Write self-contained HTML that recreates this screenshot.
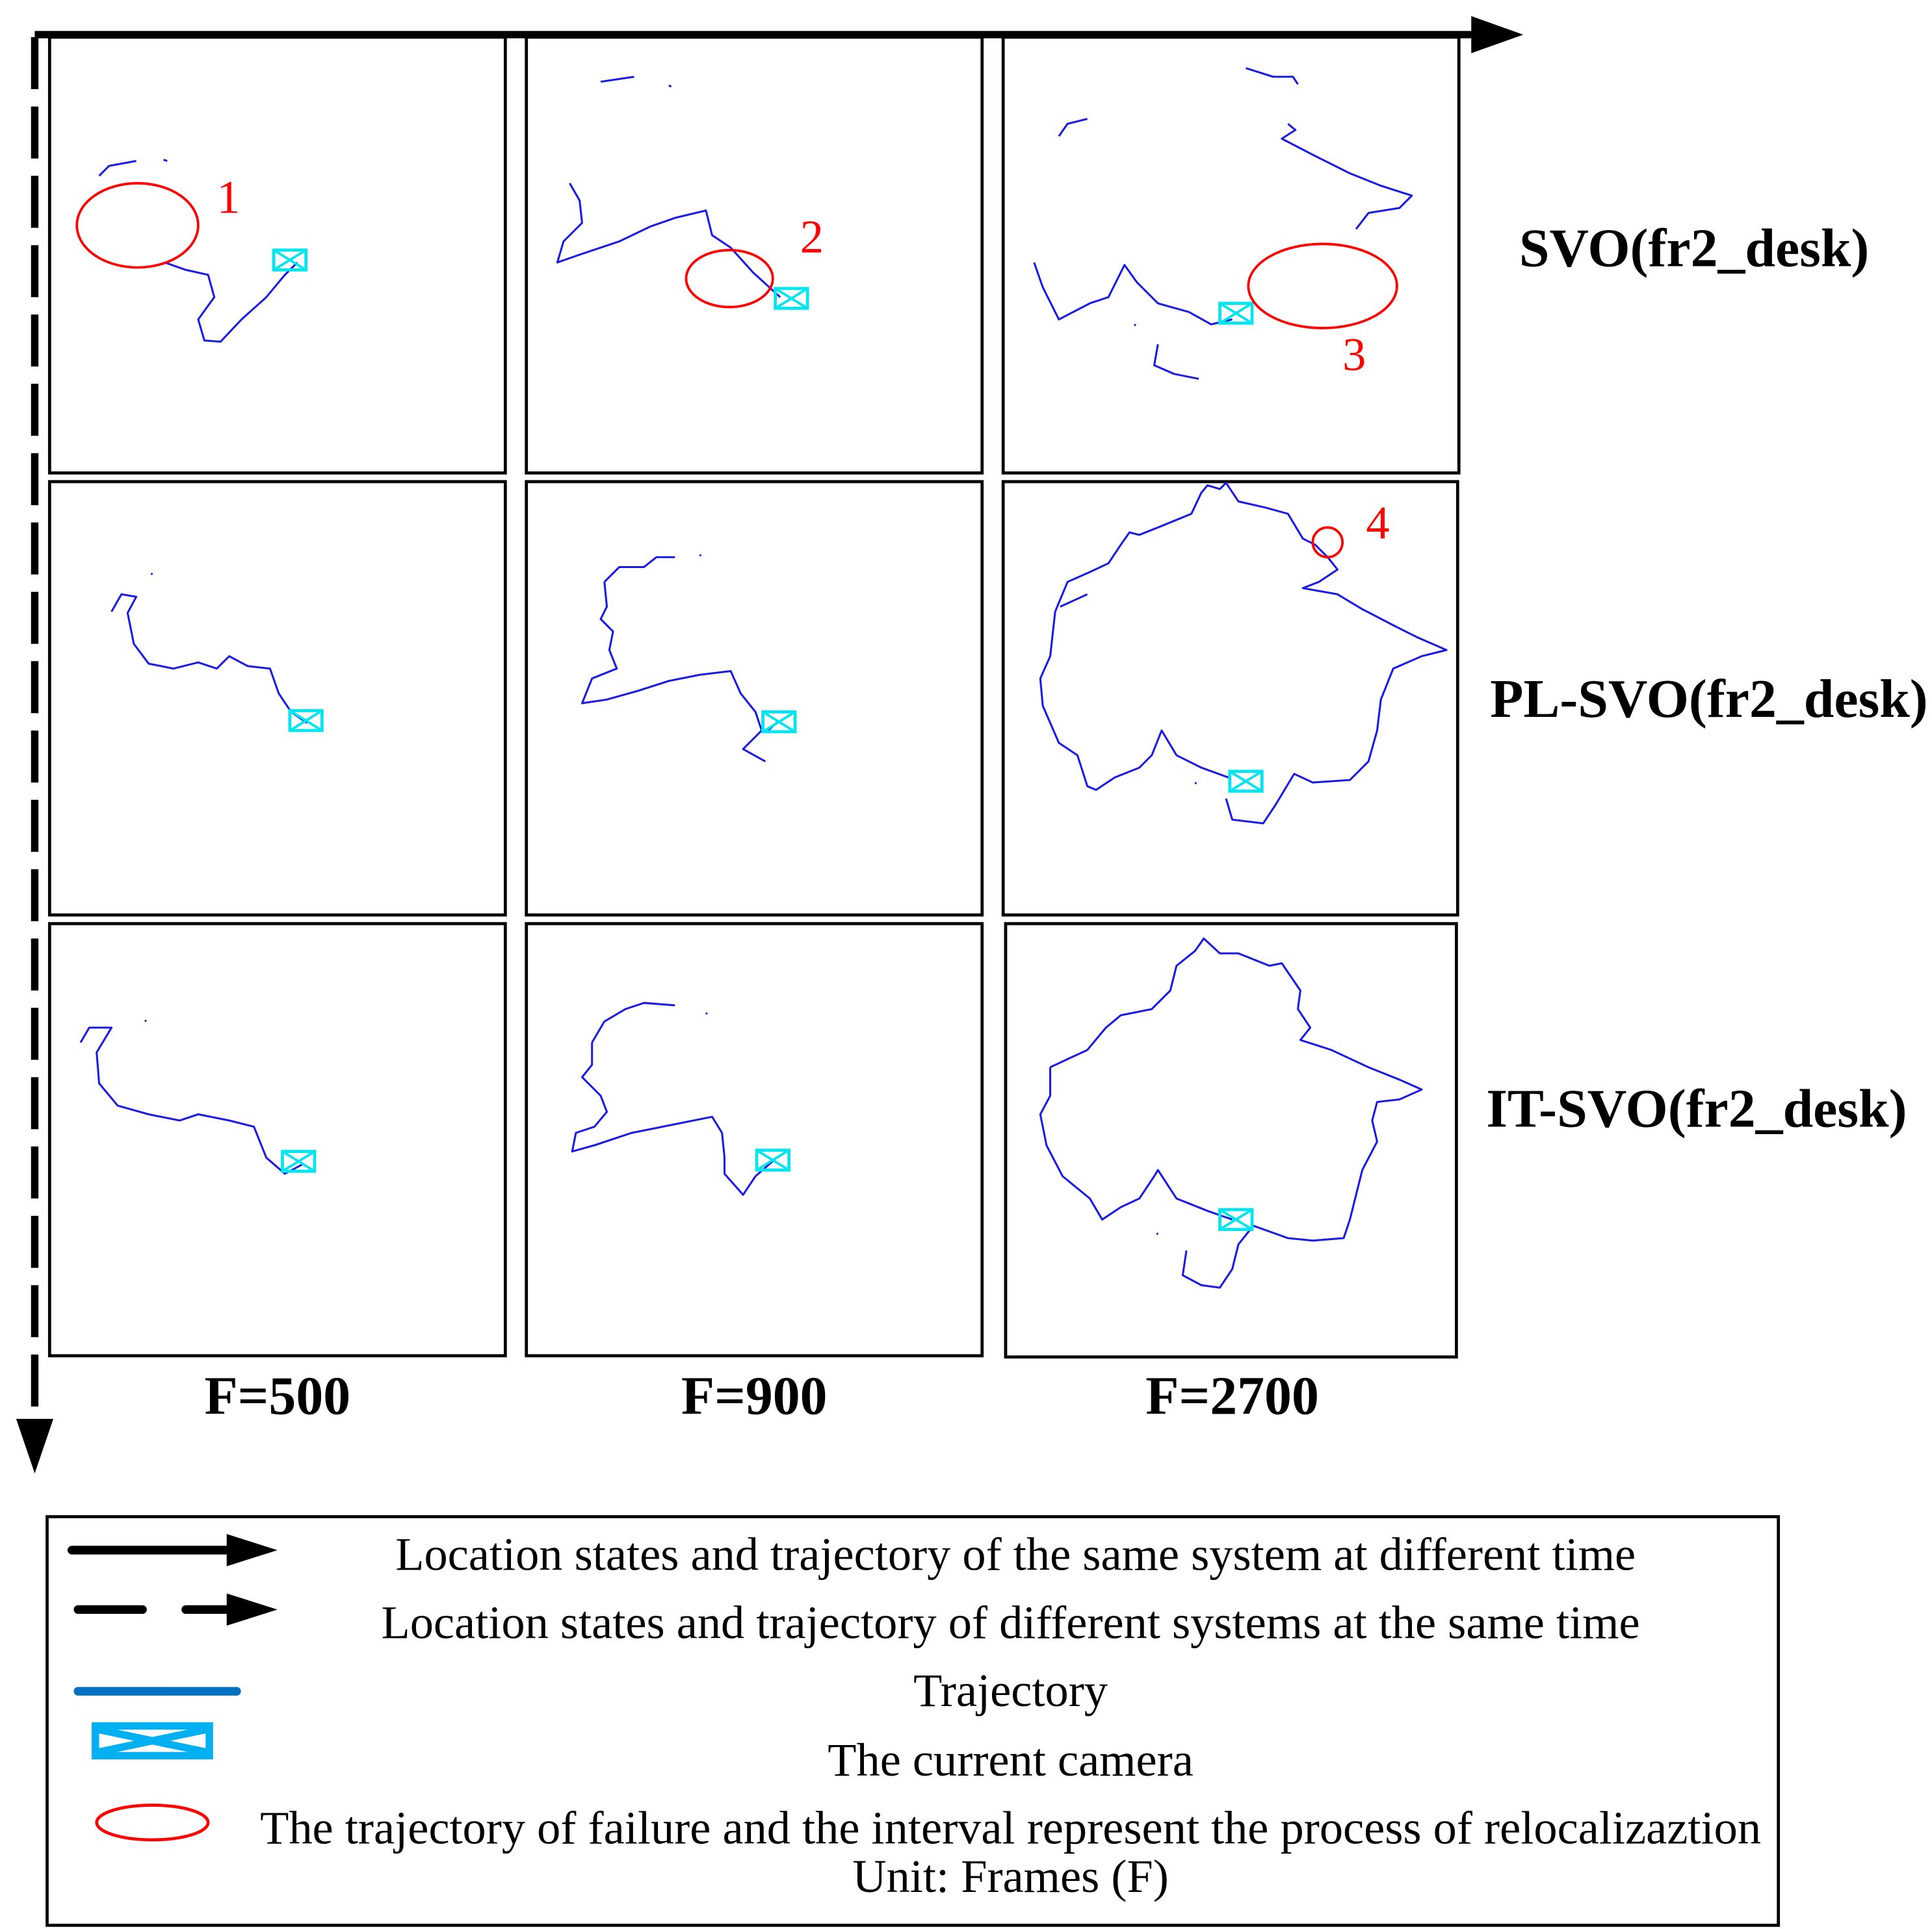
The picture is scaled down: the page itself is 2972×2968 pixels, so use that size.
<!DOCTYPE html>
<html><head><meta charset="utf-8"><style>
html,body{margin:0;padding:0;background:#fff;}
svg{display:block;}
text{font-family:"Liberation Serif",serif;}
</style></head><body>
<svg width="2972" height="2968" viewBox="0 0 1560 1558" xmlns="http://www.w3.org/2000/svg">
<defs>
<g id="cam"><rect x="-13" y="-8" width="26" height="16" fill="none" stroke="#00e5f0" stroke-width="2.5"/><path d="M-13,-8 L13,8 M13,-8 L-13,8" stroke="#00e5f0" stroke-width="2"/></g>
</defs>
<line x1="28" y1="28" x2="1192" y2="28" stroke="#000" stroke-width="6"/>
<polygon points="1188,13 1230,28 1188,43" fill="#000"/>
<line x1="28" y1="30" x2="28" y2="1148" stroke="#000" stroke-width="6" stroke-dasharray="42,14"/>
<polygon points="13,1146 43,1146 28,1190" fill="#000"/>
<g fill="none" stroke="#000" stroke-width="2.5">
<rect x="40" y="30" width="368" height="352"/><rect x="425" y="30" width="368" height="352"/><rect x="810" y="30" width="368" height="352"/>
<rect x="40" y="389" width="368" height="350"/><rect x="425" y="389" width="368" height="350"/><rect x="810" y="389" width="367" height="350"/>
<rect x="40" y="746" width="368" height="349"/><rect x="425" y="746" width="368" height="349"/><rect x="812" y="746" width="364" height="350"/>
</g>
<g fill="none" stroke="#1a1ae6" stroke-width="1.6" stroke-linejoin="round">
<path d="M80,142 L88,134 L110,130 M132,129 L135,130"/>
<path d="M133,212 L150,218 L168,222 L173,240 L160,258 L165,275 L178,276 L195,258 L215,240 L230,222 L240,212"/>
<path d="M485,66 L512,62 M540,69 L542,70"/>
<path d="M460,148 L468,162 L470,180 L455,195 L450,212 L470,205 L500,195 L525,183 L545,176 L570,170 L575,190 L590,200 L608,220 L630,240"/>
<path d="M855,110 L862,100 L878,96 M1006,55 L1028,62 L1044,62 L1048,68 M1040,100 L1046,105 L1035,112 L1060,125 L1090,140 L1115,150 L1140,158 L1130,168 L1105,172 L1095,185"/>
<path d="M835,212 L842,232 L855,258 L880,245 L895,240 L908,214 L918,228 L935,245 L960,252 L978,262 L995,258"/>
<path d="M935,278 L932,295 L948,302 L968,306 M916,262 L917,263"/>
<path d="M90,494 L98,480 L110,482 L103,495 L108,520 L120,536 L140,540 L160,535 L175,540 L185,530 L200,538 L218,540 L225,560 L235,575 L248,584"/>
<path d="M122,463 L123,464"/>
<path d="M488,470 L500,458 L520,458 L530,450 L545,450 M565,448 L566,449"/>
<path d="M488,470 L490,490 L485,500 L495,510 L492,525 L498,540 L478,548 L470,568 L490,565 L515,558 L540,550 L565,545 L590,542 L598,560 L610,575 L615,590 L600,605 L618,615 M620,590 L628,583"/>
<path d="M856,490 L878,480 M852,494 L862,470 L880,462 L895,455 L905,440 L912,430 L920,432 L940,424 L962,415 L970,398 L975,392 L985,395 L990,390 L1000,405 L1022,410 L1040,415 L1052,435 L1062,440 L1072,450 L1080,460 L1065,470 L1052,475 L1080,480 L1100,492 L1125,505 L1145,515 L1168,525 L1148,530 L1125,540 L1115,565 L1112,590 L1105,615 L1090,630 L1060,632 L1045,625 L1030,650 L1020,665 L995,662 L990,645"/>
<path d="M852,494 L848,530 L840,548 L842,570 L855,600 L870,610 L878,635 L885,638 L900,628 L920,620 L930,610 L938,590 L950,610 L970,620 L992,628 M965,632 L966,633"/>
<path d="M65,842 L72,830 L90,830 L78,850 L80,875 L95,893 L120,900 L145,905 L160,900 L185,905 L205,910 L215,935 L230,948 L245,940"/>
<path d="M117,824 L118,825"/>
<path d="M478,842 L488,825 L505,815 L520,810 L545,812 M570,818 L571,819"/>
<path d="M478,842 L478,860 L470,870 L485,885 L490,898 L480,910 L465,915 L462,930 L480,925 L510,915 L545,908 L575,902 L583,915 L585,935 L585,948 L600,965 L610,950 L625,937"/>
<path d="M848,862 L878,848 L893,830 L905,820 L930,815 L945,800 L950,780 L965,768 L972,758 L985,770 L1000,770 L1025,780 L1035,778 L1050,800 L1048,815 L1058,830 L1050,840 L1075,848 L1105,862 L1130,872 L1148,880 L1130,888 L1112,890 L1108,905 L1112,922 L1100,945 L1095,965 L1090,985 L1085,1000 L1060,1002 L1040,1000 L1012,990 L1000,1005 L995,1025 L985,1040 L970,1038 L955,1030 L958,1010"/>
<path d="M848,862 L848,885 L840,900 L845,925 L858,950 L880,968 L890,985 L905,975 L920,968 L932,950 L935,945 L950,968 L975,978 L995,985 M934,996 L935,997"/>
</g>
<use href="#cam" x="234" y="210"/><use href="#cam" x="639" y="241"/><use href="#cam" x="998" y="253"/>
<use href="#cam" x="247" y="582"/><use href="#cam" x="629" y="583"/><use href="#cam" x="1006" y="631"/>
<use href="#cam" x="241" y="938"/><use href="#cam" x="624" y="937"/><use href="#cam" x="998" y="985"/>
<g fill="none" stroke="#ff0000" stroke-width="2">
<ellipse cx="111" cy="182" rx="49" ry="34"/>
<ellipse cx="589" cy="225" rx="35" ry="23"/>
<ellipse cx="1068" cy="231" rx="60" ry="34"/>
<circle cx="1072" cy="438" r="12"/>
</g>
<g fill="#ff0000" font-size="38">
<text x="175" y="172">1</text><text x="646" y="204">2</text><text x="1084" y="299">3</text><text x="1103" y="435">4</text>
</g>
<g font-weight="bold" font-size="44" text-anchor="middle">
<text x="1368" y="215">SVO(fr2_desk)</text>
<text x="1380" y="579">PL-SVO(fr2_desk)</text>
<text x="1370" y="910">IT-SVO(fr2_desk)</text>
<text x="224" y="1142">F=500</text>
<text x="609" y="1142">F=900</text>
<text x="995" y="1142">F=2700</text>
</g>
<rect x="38" y="1225" width="1398" height="330" fill="none" stroke="#000" stroke-width="2.5"/>
<line x1="58" y1="1252" x2="185" y2="1252" stroke="#000" stroke-width="7" stroke-linecap="round"/>
<polygon points="183,1239 224,1252 183,1265" fill="#000"/>
<line x1="63" y1="1300" x2="115" y2="1300" stroke="#000" stroke-width="7" stroke-linecap="round"/>
<line x1="150" y1="1300" x2="185" y2="1300" stroke="#000" stroke-width="7" stroke-linecap="round"/>
<polygon points="183,1287 224,1300 183,1313" fill="#000"/>
<line x1="63" y1="1366" x2="191" y2="1366" stroke="#0070c0" stroke-width="7" stroke-linecap="round"/>
<rect x="77" y="1394" width="92" height="24" fill="none" stroke="#00b0f0" stroke-width="6"/>
<path d="M80,1397 L166,1415 M166,1397 L80,1415" stroke="#00b0f0" stroke-width="6"/>
<ellipse cx="123" cy="1472" rx="45" ry="14" fill="none" stroke="#ff0000" stroke-width="2.5"/>
<g font-size="38" text-anchor="middle">
<text x="820" y="1268">Location states and trajectory of the same system at different time</text>
<text x="816" y="1323">Location states and trajectory of different systems at the same time</text>
<text x="816" y="1378">Trajectory</text>
<text x="816" y="1434">The current camera</text>
<text x="816" y="1489">The trajectory of failure and the interval represent the process of relocalizaztion</text>
<text x="816" y="1528">Unit: Frames (F)</text>
</g>
</svg>
</body></html>
